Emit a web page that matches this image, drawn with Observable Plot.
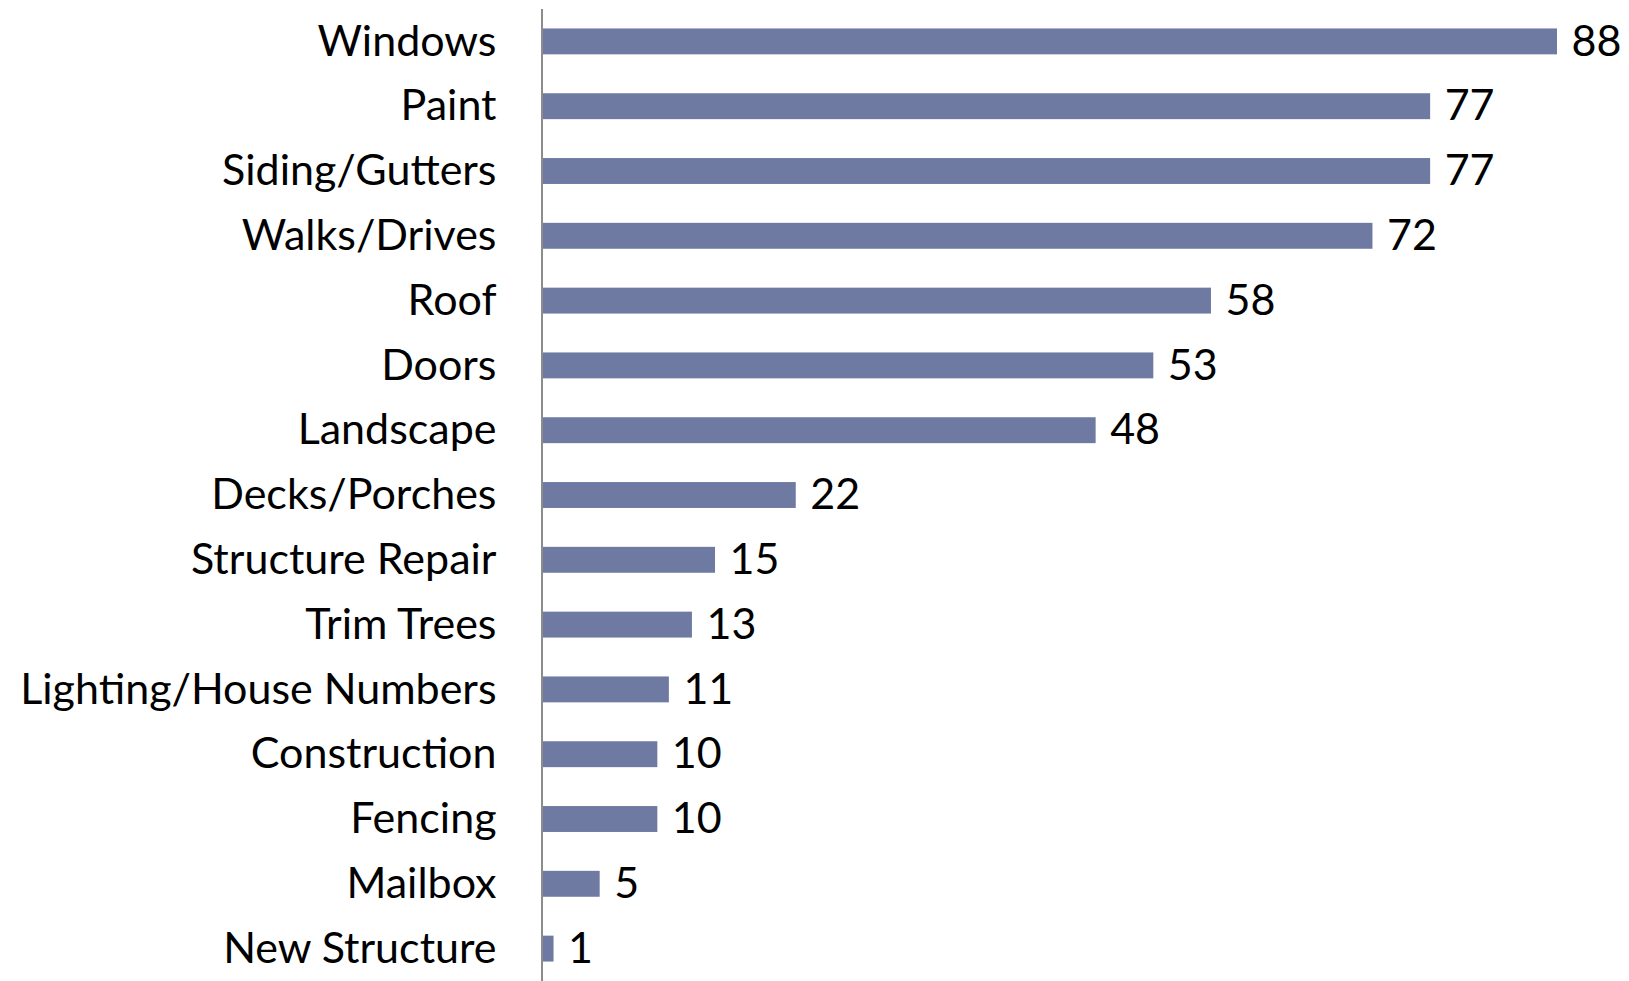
<!DOCTYPE html>
<html>
<head>
<meta charset="utf-8">
<script src="https://cdn.jsdelivr.net/npm/d3@7"></script>
<script src="https://cdn.jsdelivr.net/npm/@observablehq/plot@0.6"></script>
<style>
  html, body { margin: 0; padding: 0; background: #fff; }
  #chart svg { display: block; }
</style>
</head>
<body>
<div id="chart"></div>
<script>
const categories = ["Windows","Paint","Siding/Gutters","Walks/Drives","Roof","Doors","Landscape","Decks/Porches","Structure Repair","Trim Trees","Lighting/House Numbers","Construction","Fencing","Mailbox","New Structure"];
const counts = [88,77,77,72,58,53,48,22,15,13,11,10,10,5,1];

const data = categories.map((c, i) => ({category: c, count: counts[i]}));

const font = "'Lato', 'Open Sans', sans-serif";

const chart = Plot.plot({
  width: 1629,
  height: 981,
  marginLeft: 542,
  marginRight: 72,
  marginTop: 9,
  marginBottom: 0,
  style: {fontFamily: font, color: "#000", background: "#fff"},
  x: {domain: [0, 88], axis: null},
  y: {domain: categories, paddingInner: 0.6, paddingOuter: 0.3, round: false, axis: null},
  marks: [
    Plot.axisY({tickSize: 0, tickPadding: 46, fontSize: 43, label: null, fill: "#000"}),
    Plot.barX(data, {y: "category", x: "count", fill: "#6f7aa3", insetLeft: 1}),
    Plot.ruleX([0], {stroke: "#8c8c8c", strokeWidth: 2, dx: -0.5}),
    Plot.text(data, {y: "category", x: "count", text: d => String(d.count), textAnchor: "start", dx: 14, fontSize: 43, fill: "#000"})
  ]
});
document.getElementById("chart").appendChild(chart);
</script>
</body>
</html>
